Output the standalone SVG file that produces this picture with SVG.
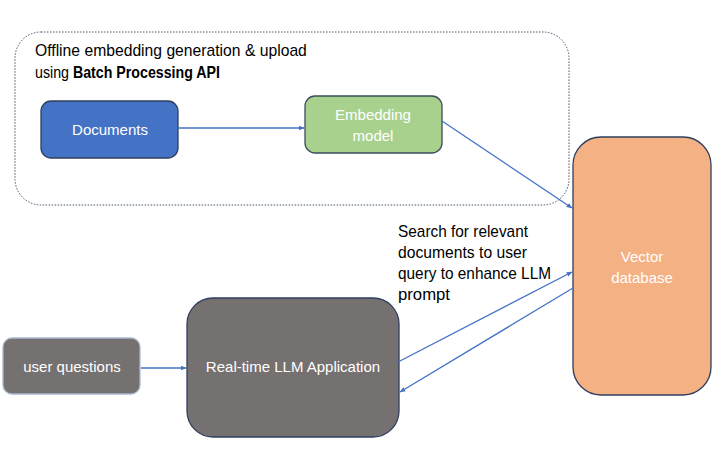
<svg xmlns="http://www.w3.org/2000/svg" width="720" height="475" viewBox="0 0 720 475">
<style>
text{font-family:"Liberation Sans",Arial,sans-serif;font-size:15px}
.w{fill:#ffffff}
.k{fill:#000000}
.c{text-anchor:middle}
.h{font-size:15.7px}
.s{font-size:16.6px}
.conn line{stroke:#4472C4;stroke-width:1.3;fill:none;marker-end:url(#ah)}
</style>
<defs>
<marker id="ah" viewBox="0 0 10 10" refX="9" refY="5" markerWidth="6" markerHeight="6" orient="auto" markerUnits="userSpaceOnUse">
<path d="M0,1 L10,5 L0,9 z" fill="#4472C4"/>
</marker>
</defs>
<rect width="720" height="475" fill="#ffffff"/>
<g id="offline-group">
<rect x="15" y="32" width="554" height="173" rx="26" ry="26" fill="none" stroke="#44546A" stroke-width="1" stroke-dasharray="1.5,1.5"/>
<text class="k h" x="35" y="56">Offline embedding generation &amp; upload</text>
<text class="k h" x="35" y="78" textLength="185" lengthAdjust="spacingAndGlyphs">using <tspan font-weight="bold">Batch Processing API</tspan></text>
</g>
<g id="documents">
<rect x="41" y="101" width="137" height="57" rx="10" fill="#4472C4" stroke="#2F3F5F" stroke-width="1.3"/>
<text class="w c" x="110" y="135">Documents</text>
</g>
<g id="embedding-model">
<rect x="305" y="96" width="137" height="57" rx="10" fill="#A9D18E" stroke="#3B4B5F" stroke-width="1.3"/>
<text class="w c" x="373" y="120">Embedding</text>
<text class="w c" x="373" y="141">model</text>
</g>
<g id="vector-database">
<rect x="573" y="137" width="138" height="258" rx="28" fill="#F4B183" stroke="#2F3F5F" stroke-width="1.3"/>
<text class="w c" x="642" y="262">Vector</text>
<text class="w c" x="642" y="283">database</text>
</g>
<g id="user-questions">
<rect x="3" y="338" width="137" height="56" rx="9" fill="#757171" stroke="#A9B8CF" stroke-width="1.3"/>
<text class="w c" x="72" y="372">user questions</text>
</g>
<g id="llm-app">
<rect x="187" y="298" width="212" height="139" rx="26" fill="#757171" stroke="#2F3F5F" stroke-width="1.3"/>
<text class="w c" x="293" y="372">Real-time LLM Application</text>
</g>
<g id="search-label">
<text class="k s" x="398" y="237" textLength="130" lengthAdjust="spacingAndGlyphs">Search for relevant</text>
<text class="k s" x="398" y="258" textLength="129" lengthAdjust="spacingAndGlyphs">documents to user</text>
<text class="k s" x="398" y="279" textLength="153" lengthAdjust="spacingAndGlyphs">query to enhance LLM</text>
<text class="k s" x="398" y="300" textLength="52" lengthAdjust="spacingAndGlyphs">prompt</text>
</g>
<g class="conn" id="connectors">
<line x1="178" y1="128" x2="304" y2="128"/>
<line x1="442" y1="121" x2="572" y2="208"/>
<line x1="141" y1="368" x2="186" y2="368"/>
<line x1="398" y1="362" x2="572" y2="272"/>
<line x1="573" y1="288" x2="400" y2="392"/>
</g>
</svg>
